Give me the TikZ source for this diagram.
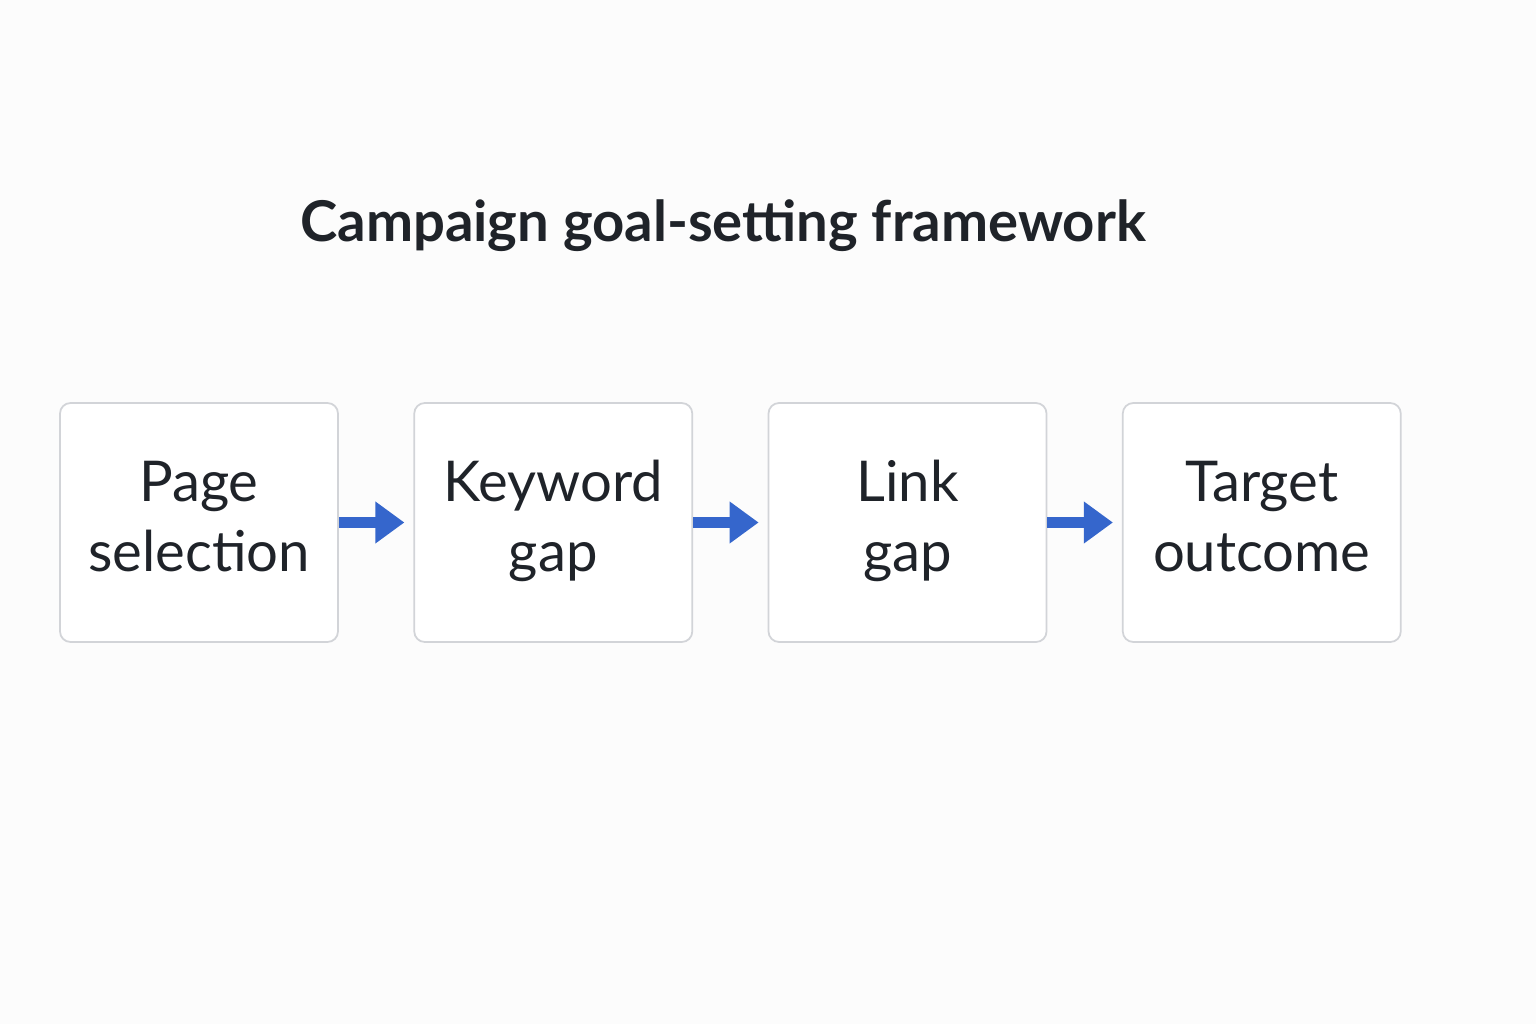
\documentclass[tikz,border=0pt]{standalone}
\usepackage{fontspec}
\setmainfont{Lato}
\usetikzlibrary{positioning}
\usetikzlibrary{arrows.meta}

\definecolor{flowblue}{HTML}{3566CC}
\definecolor{boxline}{HTML}{D2D4D8}
\definecolor{inkdark}{HTML}{1F2329}

\begin{document}
\begin{tikzpicture}[
    stepbox/.style = {draw=boxline, line width=0.5pt, rounded corners=3pt, fill=white,
                      minimum width=2.78cm, minimum height=2.39cm, align=center,
                      text=inkdark, font=\fontsize{16}{20}\selectfont},
    flow/.style = {draw=flowblue, line width=1.1mm, -{Triangle[length=2.9mm,width=4mm]},
                   shorten >=0.09cm}
    ]

    \fill[white!98!gray] (0,0) rectangle (15.36,10.24);

    \node[font=\bfseries\fontsize{16}{20}\selectfont, text=inkdark] (title) at (7.23,7.98)
        {Campaign goal-setting framework};

    \node[stepbox] (page) at (1.99,5.015) {\strut Page\\\strut selection};
    \node[stepbox, right=0.745cm of page] (keyword) {\strut Keyword\\\strut gap};
    \node[stepbox, right=0.745cm of keyword] (link) {\strut Link\\\strut gap};
    \node[stepbox, right=0.745cm of link] (target) {\strut Target\\\strut outcome};

    \draw[flow] (page) -- (keyword);
    \draw[flow] (keyword) -- (link);
    \draw[flow] (link) -- (target);

\end{tikzpicture}
\end{document}
